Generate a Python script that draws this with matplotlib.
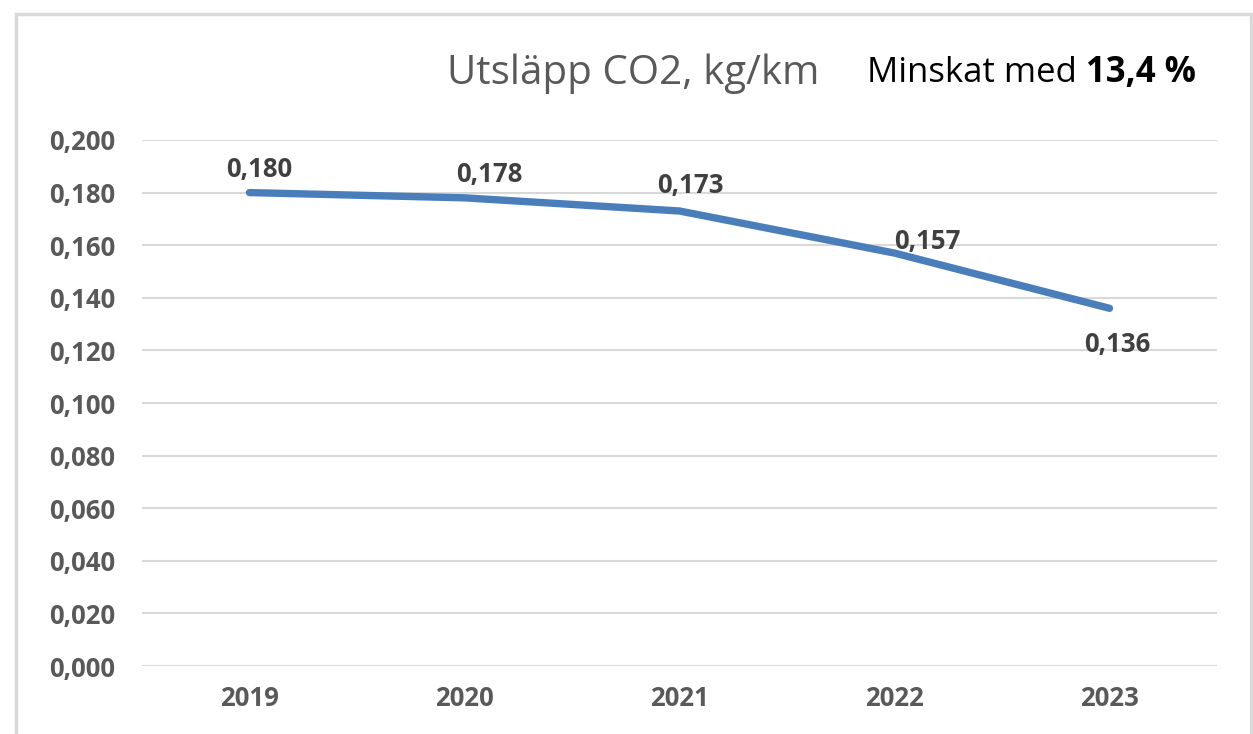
import matplotlib.pyplot as plt
from matplotlib.patches import Rectangle
from matplotlib.ticker import FuncFormatter

plt.rcParams['font.family'] = ['Open Sans', 'DejaVu Sans']

# data
years = ['2019', '2020', '2021', '2022', '2023']
co2 = [0.180, 0.178, 0.173, 0.157, 0.136]
yticks = [0.0, 0.02, 0.04, 0.06, 0.08, 0.10, 0.12, 0.14, 0.16, 0.18, 0.20]

# label offsets from each point (pixels), as placed in the original
label_dx = [10, 25, 11, 33, 8]
label_dy = [23, 23, 25, 12, -36]

fig = plt.figure(figsize=(12.53, 7.34), dpi=100)
ax = fig.add_axes([0.1133, 0.0926, 0.8580, 0.7167])

x = list(range(len(years)))
ax.plot(x, co2, color='#4a7ebb', lw=5.3, solid_capstyle='round', zorder=3)

# data labels
for xi, v, dx, dy in zip(x, co2, label_dx, label_dy):
    txt = f'{v:.3f}'.replace('.', ',')
    ax.annotate(txt, (xi, v), xytext=(dx, dy), textcoords='offset pixels',
                ha='center', va='center', fontsize=18.5, fontweight='bold',
                color='#404040', zorder=4)

ax.set_xlim(-0.5, len(years) - 0.5)
ax.set_ylim(0, 0.2)
ax.set_xticks(x)
ax.set_xticklabels(years)
ax.set_yticks(yticks)
ax.yaxis.set_major_formatter(FuncFormatter(lambda v, p: f'{v:.3f}'.replace('.', ',')))
ax.tick_params(axis='both', length=0, labelsize=18.5, labelcolor='#595959')
ax.tick_params(axis='x', pad=14)
ax.tick_params(axis='y', pad=19)
for lab in ax.get_xticklabels() + ax.get_yticklabels():
    lab.set_fontweight('bold')
ax.grid(axis='y', color='#d9d9d9', lw=1.5)
ax.set_axisbelow(True)
for s in ax.spines.values():
    s.set_visible(False)

# titles
fig.text(0.505, 0.900, 'Utsläpp CO2, kg/km', ha='center', va='center',
         fontsize=29, color='#595959')
t1 = fig.text(0.692, 0.900, 'Minskat med ', ha='left', va='center', fontsize=25, color='black')
fig.canvas.draw()
bb = t1.get_window_extent().transformed(fig.transFigure.inverted())
fig.text(bb.x1, 0.900, '13,4 %', ha='left', va='center', fontsize=25,
         fontweight='bold', color='black')

# outer frame
fig.patches.append(Rectangle((0.0125, -0.05), 0.986, 1.031, transform=fig.transFigure,
                             fill=False, edgecolor='#d9d9d9', lw=2.5))

fig.savefig('out.png', dpi=100)
